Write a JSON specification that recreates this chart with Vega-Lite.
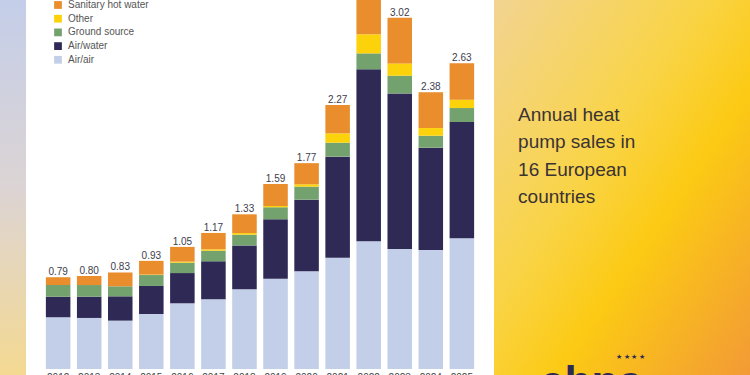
{
  "$schema": "https://vega.github.io/schema/vega-lite/v6.json",
  "padding": 0,
  "background": "white",
  "bounds": "flush",
  "spacing": 0,
  "config": {
    "view": {"stroke": null},
    "font": "Liberation Sans",
    "concat": {"spacing": 0}
  },
  "datasets": {
    "sales": [
      {"year": "2012", "type": "Air/air", "value": 0.444}, {"year": "2012", "type": "Air/water", "value": 0.178}, {"year": "2012", "type": "Ground source", "value": 0.100}, {"year": "2012", "type": "Other", "value": 0.0}, {"year": "2012", "type": "Sanitary hot water", "value": 0.068},
      {"year": "2013", "type": "Air/air", "value": 0.439}, {"year": "2013", "type": "Air/water", "value": 0.183}, {"year": "2013", "type": "Ground source", "value": 0.100}, {"year": "2013", "type": "Other", "value": 0.0}, {"year": "2013", "type": "Sanitary hot water", "value": 0.078},
      {"year": "2014", "type": "Air/air", "value": 0.416}, {"year": "2014", "type": "Air/water", "value": 0.209}, {"year": "2014", "type": "Ground source", "value": 0.086}, {"year": "2014", "type": "Other", "value": 0.0}, {"year": "2014", "type": "Sanitary hot water", "value": 0.119},
      {"year": "2015", "type": "Air/air", "value": 0.473}, {"year": "2015", "type": "Air/water", "value": 0.241}, {"year": "2015", "type": "Ground source", "value": 0.094}, {"year": "2015", "type": "Other", "value": 0.004}, {"year": "2015", "type": "Sanitary hot water", "value": 0.118},
      {"year": "2016", "type": "Air/air", "value": 0.565}, {"year": "2016", "type": "Air/water", "value": 0.260}, {"year": "2016", "type": "Ground source", "value": 0.089}, {"year": "2016", "type": "Other", "value": 0.009}, {"year": "2016", "type": "Sanitary hot water", "value": 0.127},
      {"year": "2017", "type": "Air/air", "value": 0.599}, {"year": "2017", "type": "Air/water", "value": 0.327}, {"year": "2017", "type": "Ground source", "value": 0.091}, {"year": "2017", "type": "Other", "value": 0.012}, {"year": "2017", "type": "Sanitary hot water", "value": 0.141},
      {"year": "2018", "type": "Air/air", "value": 0.685}, {"year": "2018", "type": "Air/water", "value": 0.378}, {"year": "2018", "type": "Ground source", "value": 0.092}, {"year": "2018", "type": "Other", "value": 0.014}, {"year": "2018", "type": "Sanitary hot water", "value": 0.161},
      {"year": "2019", "type": "Air/air", "value": 0.777}, {"year": "2019", "type": "Air/water", "value": 0.510}, {"year": "2019", "type": "Ground source", "value": 0.103}, {"year": "2019", "type": "Other", "value": 0.012}, {"year": "2019", "type": "Sanitary hot water", "value": 0.188},
      {"year": "2020", "type": "Air/air", "value": 0.840}, {"year": "2020", "type": "Air/water", "value": 0.616}, {"year": "2020", "type": "Ground source", "value": 0.112}, {"year": "2020", "type": "Other", "value": 0.020}, {"year": "2020", "type": "Sanitary hot water", "value": 0.182},
      {"year": "2021", "type": "Air/air", "value": 0.957}, {"year": "2021", "type": "Air/water", "value": 0.869}, {"year": "2021", "type": "Ground source", "value": 0.120}, {"year": "2021", "type": "Other", "value": 0.080}, {"year": "2021", "type": "Sanitary hot water", "value": 0.244},
      {"year": "2022", "type": "Air/air", "value": 1.098}, {"year": "2022", "type": "Air/water", "value": 1.479}, {"year": "2022", "type": "Ground source", "value": 0.137}, {"year": "2022", "type": "Other", "value": 0.164}, {"year": "2022", "type": "Sanitary hot water", "value": 0.452},
      {"year": "2023", "type": "Air/air", "value": 1.032}, {"year": "2023", "type": "Air/water", "value": 1.338}, {"year": "2023", "type": "Ground source", "value": 0.152}, {"year": "2023", "type": "Other", "value": 0.106}, {"year": "2023", "type": "Sanitary hot water", "value": 0.392},
      {"year": "2024", "type": "Air/air", "value": 1.023}, {"year": "2024", "type": "Air/water", "value": 0.880}, {"year": "2024", "type": "Ground source", "value": 0.103}, {"year": "2024", "type": "Other", "value": 0.066}, {"year": "2024", "type": "Sanitary hot water", "value": 0.308},
      {"year": "2025", "type": "Air/air", "value": 1.124}, {"year": "2025", "type": "Air/water", "value": 1.000}, {"year": "2025", "type": "Ground source", "value": 0.120}, {"year": "2025", "type": "Other", "value": 0.072}, {"year": "2025", "type": "Sanitary hot water", "value": 0.314}
    ],
    "totals": [
      {"year": "2012", "total": 0.79}, {"year": "2013", "total": 0.80}, {"year": "2014", "total": 0.83}, {"year": "2015", "total": 0.93},
      {"year": "2016", "total": 1.05}, {"year": "2017", "total": 1.17}, {"year": "2018", "total": 1.33}, {"year": "2019", "total": 1.59},
      {"year": "2020", "total": 1.77}, {"year": "2021", "total": 2.27}, {"year": "2022", "total": 3.33}, {"year": "2023", "total": 3.02},
      {"year": "2024", "total": 2.38}, {"year": "2025", "total": 2.63}
    ],
    "caption": [
      {"text": ["Annual heat", "pump sales in", "16 European", "countries"]}
    ],
    "logo": [{"name": "ehpa", "stars": "★ ★ ★ ★"}]
  },
  "hconcat": [
    {
      "width": 26,
      "height": 375,
      "view": {
        "stroke": null,
        "fill": {"gradient": "linear", "x1": 0, "y1": 0, "x2": 0, "y2": 1,
          "stops": [{"offset": 0, "color": "#c4cee9"}, {"offset": 0.5, "color": "#dcd4d4"}, {"offset": 1, "color": "#f4d992"}]}
      },
      "data": {"values": [{"t": ""}]},
      "mark": {"type": "text"},
      "encoding": {"text": {"field": "t"}}
    },
    {
      "width": 468,
      "height": 369,
      "view": {"stroke": null, "fill": "white"},
      "layer": [
        {
          "data": {"name": "sales"},
          "mark": {"type": "bar", "clip": true},
          "encoding": {
            "x": {"field": "year", "type": "ordinal",
              "scale": {"paddingInner": 0.21, "paddingOuter": 0.64},
              "axis": {"title": null, "labelAngle": 0, "ticks": false, "domain": false, "labelPadding": 3, "labelFontSize": 10, "labelColor": "#444444", "labelBaseline": "top"}},
            "y": {"field": "value", "type": "quantitative", "stack": "zero",
              "scale": {"domain": [0, 3.173], "nice": false, "zero": true}, "axis": null},
            "color": {"field": "type", "type": "nominal",
              "scale": {"domain": ["Sanitary hot water", "Other", "Ground source", "Air/water", "Air/air"],
                "range": ["#e98d2d", "#fcd20b", "#74a26e", "#2e2a55", "#c3cfe8"]},
              "legend": {"title": null, "orient": "none", "legendX": 53, "legendY": 0, "symbolType": "square", "symbolSize": 60, "symbolStrokeWidth": 0, "labelFontSize": 10, "labelColor": "#555555", "labelOffset": 5, "rowPadding": 3.7, "padding": 0}},
            "order": {"field": "type", "sort": "ascending"}
          }
        },
        {
          "data": {"name": "totals"},
          "mark": {"type": "text", "dy": -2, "baseline": "alphabetic", "fontSize": 10, "color": "#3d3d4d", "clip": true},
          "encoding": {
            "x": {"field": "year", "type": "ordinal"},
            "y": {"field": "total", "type": "quantitative"},
            "text": {"field": "total", "type": "quantitative", "format": ".2f"}
          }
        }
      ]
    },
    {
      "width": 256,
      "height": 375,
      "view": {
        "stroke": null,
        "fill": {"gradient": "linear", "x1": 0, "y1": 0, "x2": 1, "y2": 1,
          "stops": [{"offset": 0, "color": "#f2d492"}, {"offset": 0.4, "color": "#f9d448"}, {"offset": 0.62, "color": "#fcca14"}, {"offset": 1, "color": "#f29a36"}]}
      },
      "layer": [
        {
          "data": {"name": "caption"},
          "mark": {"type": "text", "align": "left", "baseline": "alphabetic", "fontSize": 19, "lineHeight": 27.5, "color": "#3b3334"},
          "encoding": {
            "x": {"datum": 0.094, "type": "quantitative", "scale": {"domain": [0, 1], "nice": false}, "axis": null},
            "y": {"datum": 0.322, "type": "quantitative", "scale": {"domain": [0, 1], "nice": false, "reverse": true}, "axis": null},
            "text": {"field": "text"}
          }
        },
        {
          "data": {"name": "logo"},
          "mark": {"type": "text", "align": "left", "baseline": "alphabetic", "fontSize": 44, "fontWeight": "bold", "color": "#2e2a55", "letterSpacing": 2},
          "encoding": {
            "x": {"datum": 0.18, "type": "quantitative"},
            "y": {"datum": 1.058, "type": "quantitative"},
            "text": {"field": "name"}
          }
        },
        {
          "data": {"name": "logo"},
          "mark": {"type": "text", "align": "left", "baseline": "middle", "fontSize": 7, "color": "#2e2a55"},
          "encoding": {
            "x": {"datum": 0.475, "type": "quantitative"},
            "y": {"datum": 0.952, "type": "quantitative"},
            "text": {"field": "stars"}
          }
        }
      ]
    }
  ]
}
